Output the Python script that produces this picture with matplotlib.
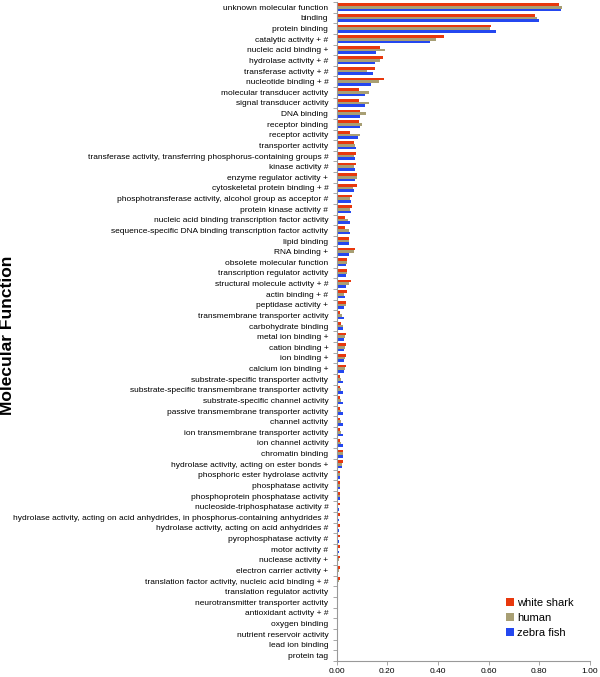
import matplotlib
matplotlib.use("Agg")
import matplotlib.pyplot as plt
import numpy as np
from matplotlib.ticker import FixedLocator, FormatStrFormatter

plt.rcParams['font.family'] = ['Liberation Sans', 'DejaVu Sans']

categories = [
    "unknown molecular function", "binding", "protein binding", "catalytic activity + #",
    "nucleic acid binding +", "hydrolase activity + #", "transferase activity + #",
    "nucleotide binding + #", "molecular transducer activity", "signal transducer activity",
    "DNA binding", "receptor binding", "receptor activity", "transporter activity",
    "transferase activity, transferring phosphorus-containing groups #", "kinase activity #",
    "enzyme regulator activity +", "cytoskeletal protein binding + #",
    "phosphotransferase activity, alcohol group as acceptor #", "protein kinase activity #",
    "nucleic acid binding transcription factor activity",
    "sequence-specific DNA binding transcription factor activity", "lipid binding",
    "RNA binding +", "obsolete molecular function", "transcription regulator activity",
    "structural molecule activity + #", "actin binding + #", "peptidase activity +",
    "transmembrane transporter activity", "carbohydrate binding", "metal ion binding +",
    "cation binding +", "ion binding +", "calcium ion binding +",
    "substrate-specific transporter activity",
    "substrate-specific transmembrane transporter activity",
    "substrate-specific channel activity", "passive transmembrane transporter activity",
    "channel activity", "ion transmembrane transporter activity", "ion channel activity",
    "chromatin binding", "hydrolase activity, acting on ester bonds +",
    "phosphoric ester hydrolase activity", "phosphatase activity",
    "phosphoprotein phosphatase activity", "nucleoside-triphosphatase activity #",
    "hydrolase activity, acting on acid anhydrides, in phosphorus-containing anhydrides #",
    "hydrolase activity, acting on acid anhydrides #", "pyrophosphatase activity #",
    "motor activity #", "nuclease activity +", "electron carrier activity +",
    "translation factor activity, nucleic acid binding + #", "translation regulator activity",
    "neurotransmitter transporter activity", "antioxidant activity + #", "oxygen binding",
    "nutrient reservoir activity", "lead ion binding", "protein tag",
]

white_shark = [
    0.878, 0.784, 0.611, 0.426, 0.171, 0.183, 0.151, 0.186, 0.088, 0.088,
    0.093, 0.089, 0.054, 0.067, 0.075, 0.075, 0.079, 0.079, 0.060, 0.060,
    0.035, 0.035, 0.050, 0.072, 0.041, 0.041, 0.057, 0.043, 0.038, 0.013,
    0.019, 0.037, 0.037, 0.037, 0.037, 0.012, 0.012, 0.012, 0.012, 0.012,
    0.012, 0.012, 0.026, 0.027, 0.013, 0.013, 0.013, 0.012, 0.012, 0.012,
    0.012, 0.012, 0.013, 0.012, 0.013, 0.002, 0.001, 0.004, 0.001, 0.001,
    0.0005, 0.0005,
]
human = [
    0.891, 0.792, 0.606, 0.392, 0.190, 0.173, 0.122, 0.168, 0.126, 0.126,
    0.117, 0.101, 0.093, 0.074, 0.067, 0.067, 0.080, 0.063, 0.052, 0.052,
    0.045, 0.047, 0.050, 0.067, 0.041, 0.041, 0.050, 0.030, 0.038, 0.022,
    0.026, 0.035, 0.035, 0.035, 0.035, 0.019, 0.019, 0.019, 0.019, 0.019,
    0.019, 0.019, 0.026, 0.023, 0.013, 0.013, 0.013, 0.006, 0.006, 0.006,
    0.006, 0.006, 0.009, 0.010, 0.009, 0.002, 0.002, 0.002, 0.001, 0.0005,
    0.0005, 0.0005,
]
zebra_fish = [
    0.887, 0.800, 0.629, 0.370, 0.157, 0.150, 0.142, 0.136, 0.114, 0.114,
    0.093, 0.093, 0.084, 0.078, 0.074, 0.074, 0.071, 0.070, 0.058, 0.058,
    0.054, 0.054, 0.050, 0.047, 0.039, 0.039, 0.039, 0.034, 0.031, 0.030,
    0.027, 0.028, 0.028, 0.028, 0.028, 0.027, 0.027, 0.027, 0.027, 0.027,
    0.027, 0.027, 0.026, 0.021, 0.013, 0.013, 0.013, 0.008, 0.008, 0.008,
    0.008, 0.008, 0.003, 0.005, 0.006, 0.001, 0.002, 0.001, 0.001, 0.0005,
    0.0005, 0.0005,
]

series = [("white shark", white_shark, "#e8380d"),
          ("human", human, "#a89f74"),
          ("zebra fish", zebra_fish, "#2447f0")]

fig = plt.figure(figsize=(6.0, 6.77), dpi=100)
ax = fig.add_axes([0.561, 0.024, 0.422, 0.973])

n = len(categories)
y = np.arange(n)
h = 0.25
for i, (name, vals, col) in enumerate(series):
    ax.barh(y - h + i * h, vals, height=h, color=col, label=name, linewidth=0)

ax.set_ylim(n - 0.5, -0.5)
ax.set_xlim(0, 1.0)
ax.set_yticks(y)
ax.set_yticklabels(categories, fontsize=6)
ax.tick_params(axis='y', length=0, pad=6)
ax.yaxis.set_minor_locator(FixedLocator(np.arange(-0.5, n, 1.0)))
ax.tick_params(axis='y', which='minor', length=3, color='#999999', width=0.6)
ax.set_xticks(np.arange(0, 1.01, 0.2))
ax.xaxis.set_major_formatter(FormatStrFormatter('%.2f'))
ax.tick_params(axis='x', labelsize=6, length=3, color='#999999', width=0.6, pad=2)

for s in ['top', 'right']:
    ax.spines[s].set_visible(False)
for s in ['left', 'bottom']:
    ax.spines[s].set_color('#999999')
    ax.spines[s].set_linewidth(0.8)

fig.text(0.013, 0.505, "Molecular Function", rotation=90, fontsize=12.5,
         fontweight='bold', ha='center', va='center')

leg = ax.legend(loc='lower right', bbox_to_anchor=(0.975, 0.02), frameon=False,
                fontsize=8, handlelength=0.7, handleheight=0.7,
                handletextpad=0.3, labelspacing=0.45)

fig.savefig("out.png", dpi=100)
